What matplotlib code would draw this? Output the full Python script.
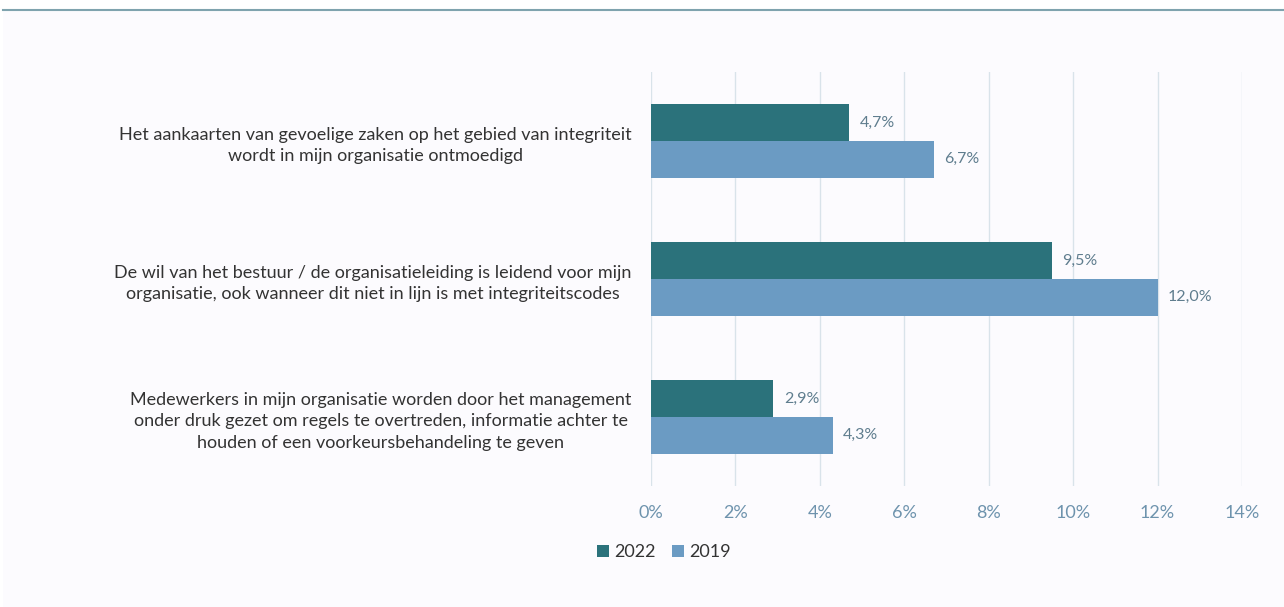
import matplotlib
matplotlib.use("Agg")
import matplotlib.pyplot as plt
from matplotlib.patches import Patch
import numpy as np

categories = [
    "Het aankaarten van gevoelige zaken op het gebied van integriteit\nwordt in mijn organisatie ontmoedigd",
    "De wil van het bestuur / de organisatieleiding is leidend voor mijn\norganisatie, ook wanneer dit niet in lijn is met integriteitscodes",
    "Medewerkers in mijn organisatie worden door het management\nonder druk gezet om regels te overtreden, informatie achter te\nhouden of een voorkeursbehandeling te geven",
]
series_names = ["2022", "2019"]
values_2022 = [4.7, 9.5, 2.9]
values_2019 = [6.7, 12.0, 4.3]
xticks = [0, 2, 4, 6, 8, 10, 12, 14]

c2022 = "#2B727B"
c2019 = "#6B9BC3"
bg = "#FCFBFE"
label_col = "#5F7D8E"
tick_col = "#6E93AD"
text_col = "#333333"

plt.rcParams['font.family'] = ['Lato', 'DejaVu Sans']

fig = plt.figure(figsize=(12.84, 6.07), dpi=100)
fig.patch.set_facecolor("white")
# background panel
fig.add_artist(plt.Rectangle((3/1284, 0), 1 - 3/1284, 1 - 11/607, transform=fig.transFigure,
                             facecolor=bg, edgecolor="none", zorder=0))
fig.add_artist(plt.Line2D([3/1284, 1], [1 - 10/607, 1 - 10/607], transform=fig.transFigure,
                          color="#7FA3AE", lw=1.5))

ax = fig.add_axes([651/1284, 1 - 486/607, (1242 - 651)/1284, (486 - 72)/607])
ax.set_facecolor("none")

n = len(categories)
y = np.arange(n)
h = 0.265
ax.barh(y - h/2, values_2022, height=h, color=c2022, zorder=3)
ax.barh(y + h/2, values_2019, height=h, color=c2019, zorder=3)
for i in range(n):
    ax.text(values_2022[i] + 0.25, y[i] - h/2, f"{values_2022[i]:.1f}%".replace(".", ","),
            va="center", ha="left", fontsize=11.5, color=label_col)
    ax.text(values_2019[i] + 0.25, y[i] + h/2, f"{values_2019[i]:.1f}%".replace(".", ","),
            va="center", ha="left", fontsize=11.5, color=label_col)

ax.set_xlim(0, 14)
ax.set_ylim(n - 0.5, -0.5)
ax.set_xticks(xticks)
ax.set_xticklabels([f"{t}%" for t in xticks], color=tick_col, fontsize=13)
ax.set_yticks(y)
ax.set_yticklabels(categories, fontsize=13, color=text_col, ha="right",
                   multialignment="center", linespacing=1.45)
ax.tick_params(axis="both", length=0)
ax.tick_params(axis="y", pad=14)
ax.tick_params(axis="x", pad=14)
ax.grid(axis="x", color="#D9E3EA", lw=1, zorder=0)
for s in ax.spines.values():
    s.set_visible(False)

handles = [Patch(facecolor=c2022, label="2022"), Patch(facecolor=c2019, label="2019")]
fig.legend(handles=handles, loc="center", bbox_to_anchor=(664/1284, 1 - 552/607), ncol=2,
           frameon=False, fontsize=13, handlelength=0.65, handleheight=0.65, handletextpad=0.3,
           columnspacing=0.9, labelcolor=text_col)

fig.savefig("out.png", dpi=100, facecolor="white")
